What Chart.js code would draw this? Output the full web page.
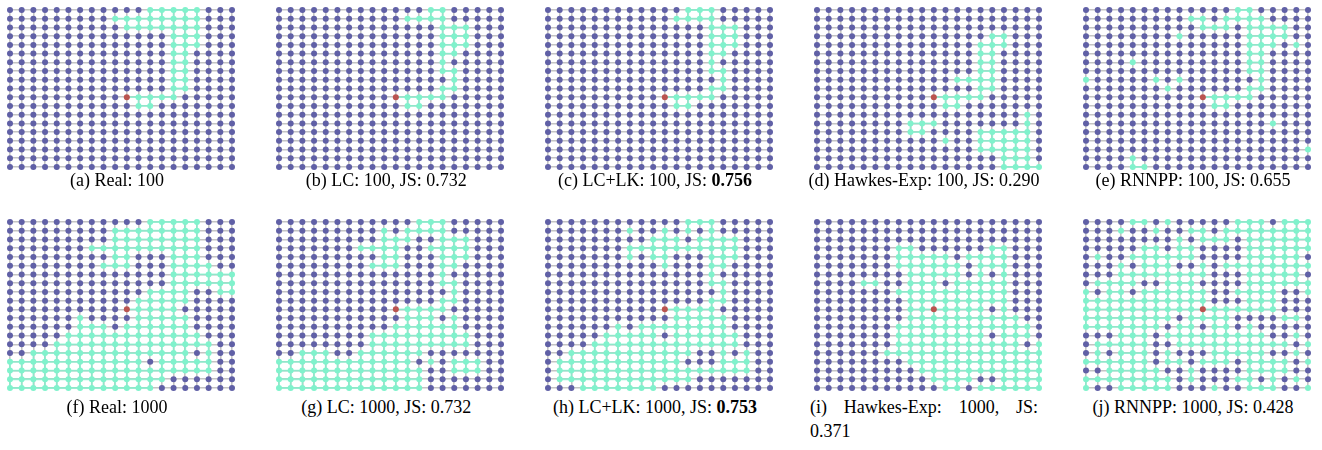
<!DOCTYPE html>
<html>
<head>
<meta charset="utf-8">
<script src="https://cdn.jsdelivr.net/npm/chart.js@4.4.1/dist/chart.umd.min.js"></script>
<style>
  body { margin: 0; background: #fff; width: 1322px; height: 450px; position: relative; overflow: hidden; }
  canvas { position: absolute; }
  .cap { position: absolute; font-family: "Liberation Serif", "Times New Roman", serif; font-size: 18px; color: #000; line-height: 20px; white-space: nowrap; text-align: center; }
  .cap.wrap { white-space: normal; text-align: justify; line-height: 24px; }
</style>
</head>
<body>
<script>
// o = not reached, g = reached, r = source node ; spaces only group columns by 5
const realTop = [
  "ooooo ooooo ooggg ggooo",
  "ooooo oooog ggggg ggooo",
  "ooooo ooooo ggggg ggooo",
  "ooooo ooooo oooog ggooo",
  "ooooo ooooo oooog ggooo",
  "ooooo ooooo oooog goooo",
  "ooooo ooooo oooog goooo",
  "ooooo ooooo oooog goooo",
  "ooooo ooooo oooog goooo",
  "ooooo ooooo oooog goooo",
  "ooooo ooooo rgggg ooooo",
  "ooooo ooooo oggoo ooooo",
  "ooooo ooooo ooooo ooooo",
  "ooooo ooooo ooooo ooooo",
  "ooooo ooooo ooooo ooooo",
  "ooooo ooooo ooooo ooooo",
  "ooooo ooooo ooooo ooooo",
  "ooooo ooooo ooooo ooooo",
  "ooooo ooooo ooooo ooooo"
];
const lcTop = [
  "ooooo ooooo ooogg ooooo",
  "ooooo ooooo ogggg ooooo",
  "ooooo ooooo oooog ggooo",
  "ooooo ooooo oooog ggooo",
  "ooooo ooooo oooog ggooo",
  "ooooo ooooo oooog goooo",
  "ooooo ooooo oooog ooooo",
  "ooooo ooooo oooog goooo",
  "ooooo ooooo ooooo goooo",
  "ooooo ooooo oooog goooo",
  "ooooo ooooo rgggg ooooo",
  "ooooo ooooo oggoo ooooo",
  "ooooo ooooo ooooo ooooo",
  "ooooo ooooo ooooo ooooo",
  "ooooo ooooo ooooo ooooo",
  "ooooo ooooo ooooo ooooo",
  "ooooo ooooo ooooo ooooo",
  "ooooo ooooo ooooo ooooo",
  "ooooo ooooo ooooo ooooo"
];
const lclkTop = [
  "ooooo ooooo ooggg ooooo",
  "ooooo ooooo ogggg ooooo",
  "ooooo ooooo oooog ggooo",
  "ooooo ooooo oooog ggooo",
  "ooooo ooooo oooog ggooo",
  "ooooo ooooo oooog goooo",
  "ooooo ooooo oooog ooooo",
  "ooooo ooooo oooog goooo",
  "ooooo ooooo ooooo goooo",
  "ooooo ooooo oooog goooo",
  "ooooo ooooo rgggg ooooo",
  "ooooo ooooo oggoo ooooo",
  "ooooo ooooo ooooo ooooo",
  "ooooo ooooo ooooo ooooo",
  "ooooo ooooo ooooo ooooo",
  "ooooo ooooo ooooo ooooo",
  "ooooo ooooo ooooo ooooo",
  "ooooo ooooo ooooo ooooo",
  "ooooo ooooo ooooo ooooo"
];
const hawkesTop = [
  "ooooo ooooo ooooo ooooo",
  "ooooo ooooo ooooo ooooo",
  "ooooo ooooo ooooo ooooo",
  "ooooo ooooo ooooo ggooo",
  "ooooo ooooo oooog ggooo",
  "ooooo ooooo oooog goooo",
  "ooooo ooooo oooog goooo",
  "ooooo ooooo oooog goooo",
  "ooooo ooooo ooggg goooo",
  "ooooo ooooo oooog goooo",
  "ooooo ooooo rgggg ooooo",
  "ooooo ooooo oggoo ooooo",
  "ooooo ooooo ooooo ooogo",
  "ooooo ooogg goooo ooogo",
  "ooooo ooogg oooog ggggo",
  "ooooo ooooo ogoog ggggo",
  "ooooo ooooo oooog ggggo",
  "ooooo ooooo ooooo ogggo",
  "ooooo ooooo ooooo ogggg"
];
const rnnTop = [
  "ooooo ooooo ooogg ooooo",
  "ooooo oooog goggg goooo",
  "ooooo ooooo gggog gggoo",
  "ooooo ooogo oooog gggoo",
  "ooooo ooooo oooog ggogo",
  "ooooo ooooo oooog goooo",
  "oooog ooooo oooog goooo",
  "ooooo ooooo oooog goooo",
  "goooo ogogo ooooo goooo",
  "ooooo oogoo oooog goooo",
  "ooooo ooooo rgggg ooooo",
  "ooooo ooooo oggoo ooooo",
  "ooooo ooooo ooooo ooooo",
  "ooooo ooooo ooooo ogooo",
  "ooooo ooooo ooooo ooooo",
  "ooooo ooooo ooooo ooooo",
  "ooooo ooooo ooooo oooog",
  "oooog ooooo ooooo ooooo",
  "oooog goooo ooooo ooooo"
];
const realBot = [
  "ooooo ooooo ooggg ggooo",
  "ooooo oooog ggggg ggooo",
  "ooooo oooog ggggg ggooo",
  "ooooo ooggg ggggg ggooo",
  "ooooo oooog gooog ggooo",
  "ooooo ooogg gooog gggoo",
  "ooooo ooooo oooog ggggg",
  "ooooo ooooo oooog ggggg",
  "ooooo ooooo ooggg googg",
  "ooooo ooooo ogggg goooo",
  "ooooo ooooo rgggg ooooo",
  "ooooo ogooo ogggg goooo",
  "ooooo ogggo ggggg goooo",
  "ooooo ggggg ggggg ggooo",
  "oooog ggggg ggggg gggoo",
  "ooggg ggggg ggggg gogoo",
  "ggggg ggggg ggogg gggoo",
  "ggggg ggggg ggggg gggoo",
  "ggggg ggggg ggggo ooooo",
  "ggggg ggggg gggoo ooooo"
];
const lcBot = [
  "ooooo ooooo ooggg ooooo",
  "ooooo oooog ogggg ooooo",
  "ooooo oooog ggoog ggooo",
  "ooooo ooggg googg ggooo",
  "ooooo oooog gooog ggooo",
  "ooooo ooogg gooog goooo",
  "ooooo ooooo oooog ooooo",
  "ooooo ooooo oooog goooo",
  "ooooo ooooo ooooo goooo",
  "ooooo ooooo oooog goooo",
  "ooooo ooooo rgggg ooooo",
  "ooooo ooooo ogggo goooo",
  "ooooo ooooo ggggg goooo",
  "ooooo ooogg ggggg ggooo",
  "ooooo ooogg ggggg ggooo",
  "ooggg ooggg gggoo ooooo",
  "ggggg ggggg ggogo gggoo",
  "ggggg ggggg gggoo gggoo",
  "ggggg ggggg gggoo ooooo",
  "ggggg ggggg gggoo ooooo"
];
const lclkBot = [
  "ooooo ooooo ooggg ooooo",
  "ooooo oogoo gogog ooooo",
  "ooooo oooog ggogg ggooo",
  "ooooo ooggg ggggg ggooo",
  "ooooo oogog gooog ggooo",
  "ooooo ooooo gooog goooo",
  "ooooo ooooo oooog ooooo",
  "ooooo ooooo oooog goooo",
  "ooooo ooooo ooooo goooo",
  "ooooo ooooo oooog goooo",
  "ooooo ooooo rgggg ooooo",
  "ooooo ooooo ogggg goooo",
  "ooooo ogogg ggggg goooo",
  "ooooo ggggg ogggg ggooo",
  "oooog ggggg ggggg ggooo",
  "ooggg ggggg gggoo gogoo",
  "ogggg ggggg ggooo gggoo",
  "ogggg ggggg ggggg gggoo",
  "ogggg ggggg gggoo ooooo",
  "ooogg ggggg ooooo ooooo"
];
const hawkesBot = [
  "ooooo ooooo ooooo ooooo",
  "ooooo ooooo ooooo ooooo",
  "ooooo ooooo ooooo ooooo",
  "ooooo ooggo ooooo ggooo",
  "ooooo ooggg ggogg ggooo",
  "ooooo ooggg gggog ggooo",
  "ooooo ooogg gggog ogooo",
  "oooog googg goggg ggooo",
  "ooooo ooggg ggggg ggooo",
  "ooooo ooogg ggggg ggooo",
  "ooooo ooogg rgggg ogooo",
  "ooooo ooogg ggggg gggoo",
  "ooooo ooggg ggggg ggggo",
  "ooooo ooggg ggggg ogggo",
  "ooooo ooggg ggggg gggog",
  "ooooo ogggg ggggg ggggg",
  "ooooo ooogg ggggg ggggg",
  "ooooo oooog ggggg ggggg",
  "ooooo ooooo ggggo ogggg",
  "ooooo ooooo oggog ggggg"
];
const rnnBot = [
  "oooog gogoo ooogg goggg",
  "ooogo ogoog goggg ggggg",
  "ooooo ooogo gggog ggggg",
  "ooooo ggogg oooog ggggg",
  "ogoog ggggg oooog ggggo",
  "ooogo gggoo goggg ggggg",
  "ooogg ggggg gooog ggggo",
  "ogggg ooggg oooog ggggg",
  "goggo ggggg googg ggoog",
  "ggggg ggggg gooog ggooo",
  "ggggg ggggg rgggg ggooo",
  "ggggg gggog gggoo ooggo",
  "ggggg ggogg oggog ooooo",
  "ooogg goggg ggggg googo",
  "ogggg googg ggggg gggog",
  "ogogg gogoo ogggg googo",
  "ggggg goggo gggog gggog",
  "ooggg ggoog oooog gggoo",
  "ggggg gggog ooogg ogogo",
  "googg gggoo ogoog ggoog"
];

const captions = [
  "(a) Real: 100",
  "(b) LC: 100, JS: 0.732",
  "(c) LC+LK: 100, JS: <b>0.756</b>",
  "(d) Hawkes-Exp: 100, JS: 0.290",
  "(e) RNNPP: 100, JS: 0.655",
  "(f) Real: 1000",
  "(g) LC: 1000, JS: 0.732",
  "(h) LC+LK: 1000, JS: <b>0.753</b>",
  "(i) Hawkes-Exp: 1000, JS: 0.371",
  "(j) RNNPP: 1000, JS: 0.428"
];

const grids = [realTop, lcTop, lclkTop, hawkesTop, rnnTop, realBot, lcBot, lclkBot, hawkesBot, rnnBot];

const PURPLE = "rgb(96, 96, 166)";
const MINT = "rgb(128, 242, 204)";
const MINT_EDGE = "rgba(128, 242, 204, 0.75)";
const RED = "rgb(186, 84, 80)";
const EDGE = "rgb(196, 196, 196)";

const colX = [10, 279.3, 548, 817, 1086];
const rowY = [9.7, 222];
const dx = 11.67;
const dy = 8.73;
const pad = 5;

function cells(rows) {
  return rows.map(r => r.replace(/ /g, "").split(""));
}

function drawPanel(k) {
  const g = cells(grids[k]);
  const nRows = g.length, nCols = g[0].length;
  const left = colX[k % 5], top = rowY[Math.floor(k / 5)];

  const canvas = document.createElement("canvas");
  const w = Math.round((nCols - 1) * dx + 2 * pad);
  const h = Math.round((nRows - 1) * dy + 2 * pad);
  canvas.width = w; canvas.height = h;
  canvas.style.left = (left - pad) + "px";
  canvas.style.top = (top - pad) + "px";
  canvas.style.width = w + "px";
  canvas.style.height = h + "px";
  document.body.appendChild(canvas);

  const isOn = (r, c) => r < nRows && c < nCols && g[r][c] !== "o";
  const purple = [], mint = [], src = [], edges = [];
  for (let r = 0; r < nRows; r++) {
    for (let c = 0; c < nCols; c++) {
      const v = g[r][c];
      if (v === "o") purple.push({ x: c, y: r });
      else if (v === "g") mint.push({ x: c, y: r });
      else src.push({ x: c, y: r });
      if (isOn(r, c)) {
        if (isOn(r, c + 1)) edges.push({ x: c, y: r }, { x: c + 1, y: r }, { x: c + 1, y: null });
        if (isOn(r + 1, c)) edges.push({ x: c, y: r }, { x: c, y: r + 1 }, { x: c, y: null });
      }
    }
  }

  const axis = (max, rev) => ({
    type: "linear", min: 0, max: max, reverse: rev,
    ticks: { display: false, stepSize: 1 },
    grid: { color: EDGE, lineWidth: 1.6, drawTicks: false },
    border: { display: false }
  });

  new Chart(canvas, {
    type: "scatter",
    data: {
      datasets: [
        { type: "line", data: edges, borderColor: MINT_EDGE, borderWidth: 1.8, pointRadius: 0, spanGaps: false, clip: false, order: 5 },
        { data: purple, backgroundColor: PURPLE, pointRadius: 3, borderWidth: 0, clip: false, order: 1 },
        { data: mint, backgroundColor: MINT, pointRadius: 3, borderWidth: 0, clip: false, order: 1 },
        { data: src, backgroundColor: RED, pointRadius: 3, borderWidth: 0, clip: false, order: 0 }
      ]
    },
    options: {
      responsive: false,
      animation: false,
      events: [],
      layout: { padding: pad },
      plugins: { legend: { display: false }, tooltip: { enabled: false } },
      scales: { x: axis(nCols - 1, false), y: axis(nRows - 1, true) }
    }
  });

  const cap = document.createElement("div");
  cap.className = "cap";
  cap.innerHTML = captions[k];
  if (k === 8) {
    cap.classList.add("wrap");
    cap.style.left = (left - 7) + "px";
    cap.style.width = "228px";
    cap.style.top = "395px";
  } else {
    cap.style.left = (left - 20) + "px";
    cap.style.width = "254px";
    cap.style.top = (k < 5 ? 170 : 397) + "px";
  }
  document.body.appendChild(cap);
}

for (let k = 0; k < grids.length; k++) drawPanel(k);
</script>
</body>
</html>
